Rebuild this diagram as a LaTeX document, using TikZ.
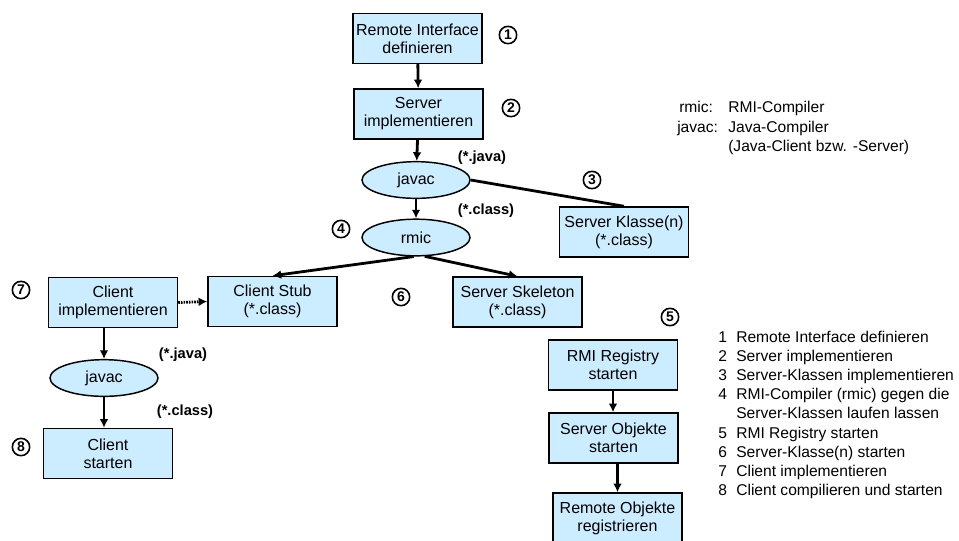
\documentclass[tikz,border=0pt]{standalone}
\usepackage{fontspec}
\setmainfont{Liberation Sans}
\usetikzlibrary{arrows.meta,shapes.geometric,calc}
\definecolor{boxfill}{RGB}{204,236,255}

\begin{document}
\begin{tikzpicture}[x=0.75pt,y=-0.75pt,
  stepbox/.style={draw=black, line width=1.1pt, fill=boxfill,
    minimum width=96.75pt, minimum height=37.5pt, inner sep=0pt,
    align=center, font=\fontsize{12}{13.5}\selectfont},
  tool/.style={ellipse, draw=black, line width=1.1pt, fill=boxfill,
    minimum width=81pt, minimum height=27.5pt, inner sep=0pt,
    font=\fontsize{12}{14}\selectfont},
  flow/.style={line width=2.1pt, -{Latex[length=6.5pt,width=6.5pt]}},
  plain/.style={line width=2.1pt},
  num/.style={circle, draw=black, line width=1.2pt, minimum size=13pt,
    inner sep=0pt, font=\bfseries\fontsize{10.5}{12}\selectfont},
  ext/.style={inner sep=0pt, font=\bfseries\fontsize{11}{13}\selectfont},
  legend/.style={anchor=base west, inner sep=0pt, font=\fontsize{11.7}{14}\selectfont}
]
\useasboundingbox (0,0) rectangle (959,540);
\clip (0,0) rectangle (959,540);

% server side build chain
\node[stepbox] (rif)   at (417.5,38.5) {Remote Interface\\definieren};
\node[stepbox] (simp)  at (418.5,114)  {Server\\implementieren};
\node[tool]    (javacS) at (416,180)   {javac};
\node[tool]    (rmic)  at (416,237.5)  {rmic};
\node[stepbox] (sk)    at (624,232)    {Server Klasse(n)\\(*.class)};
\node[stepbox] (cstub) at (272.5,301.5) {Client Stub\\(*.class)};
\node[stepbox] (sskel) at (517.5,302)  {Server Skeleton\\(*.class)};

% client side
\node[stepbox] (cimp)   at (113,302.5) {Client\\implementieren};
\node[tool]    (javacC) at (104,378)   {javac};
\node[stepbox] (cstart) at (108,453.5) {Client\\starten};

% runtime start-up
\node[stepbox] (rmireg) at (613,365)   {RMI Registry\\starten};
\node[stepbox] (sobj)   at (613.5,438) {Server Objekte\\starten};
\node[stepbox] (robj)   at (617.5,518) {Remote Objekte\\registrieren};

% file type labels
\node[ext] (jv1) at (482,158) {(*.java)};
\node[ext] (cl1) at (486,211) {(*.class)};
\node[ext] (jv2) at (183,355) {(*.java)};
\node[ext] (cl2) at (185,412) {(*.class)};

% step numbers
\node[num] (n1) at (508,35)  {1};
\node[num] (n2) at (511,108) {2};
\node[num] (n3) at (592,180) {3};
\node[num] (n4) at (341,229) {4};
\node[num] (n5) at (670,317) {5};
\node[num] (n6) at (401,297) {6};
\node[num] (n7) at (21,290)  {7};
\node[num] (n8) at (21,447)  {8};

% connectors
\draw[flow] (rif) -- (simp);
\draw[flow] (simp) -- (javacS);
\draw[flow] (javacS) -- (rmic);
\draw[plain] (javacS.east) -- (sk.north);
\draw[flow] (rmic.263) -- (cstub.north);
\draw[flow] (rmic.295) -- (sskel.north);
\draw[flow, dash pattern=on 1.2pt off 0.8pt] (cimp.east) -- (cstub.west);
\draw[flow] (cimp.south -| javacC) -- (javacC);
\draw[flow] (javacC) -- (cstart.north -| javacC);
\draw[flow] (rmireg.south) -- (sobj.north -| rmireg.south);
\draw[flow] (sobj.south -| robj.north) -- (robj.north);

% abbreviations
\node[legend] (abA)  at (679,112.5) {rmic:};
\node[legend] (abAt) at (728,112.5) {RMI-Compiler};
\node[legend] (abB)  at (677,132)   {javac:};
\node[legend] (abBt) at (728,132)   {Java-Compiler};
\node[legend] (abC)  at (728,151.5) {(Java-Client bzw. -Server)};

% list of steps
\foreach \k/\txt [count=\i from 0] in {
  1/Remote Interface definieren,
  2/Server implementieren,
  3/Server-Klassen implementieren,
  4/RMI-Compiler (rmic) gegen die,
  /Server-Klassen laufen lassen,
  5/RMI Registry starten,
  6/Server-Klasse(n) starten,
  7/Client implementieren,
  8/Client compilieren und starten} {
  \node[legend] (ln\i) at (718,342.5+19.1*\i) {\k};
  \node[legend] (lt\i) at (736,342.5+19.1*\i) {\txt};
}
\end{tikzpicture}
\end{document}
